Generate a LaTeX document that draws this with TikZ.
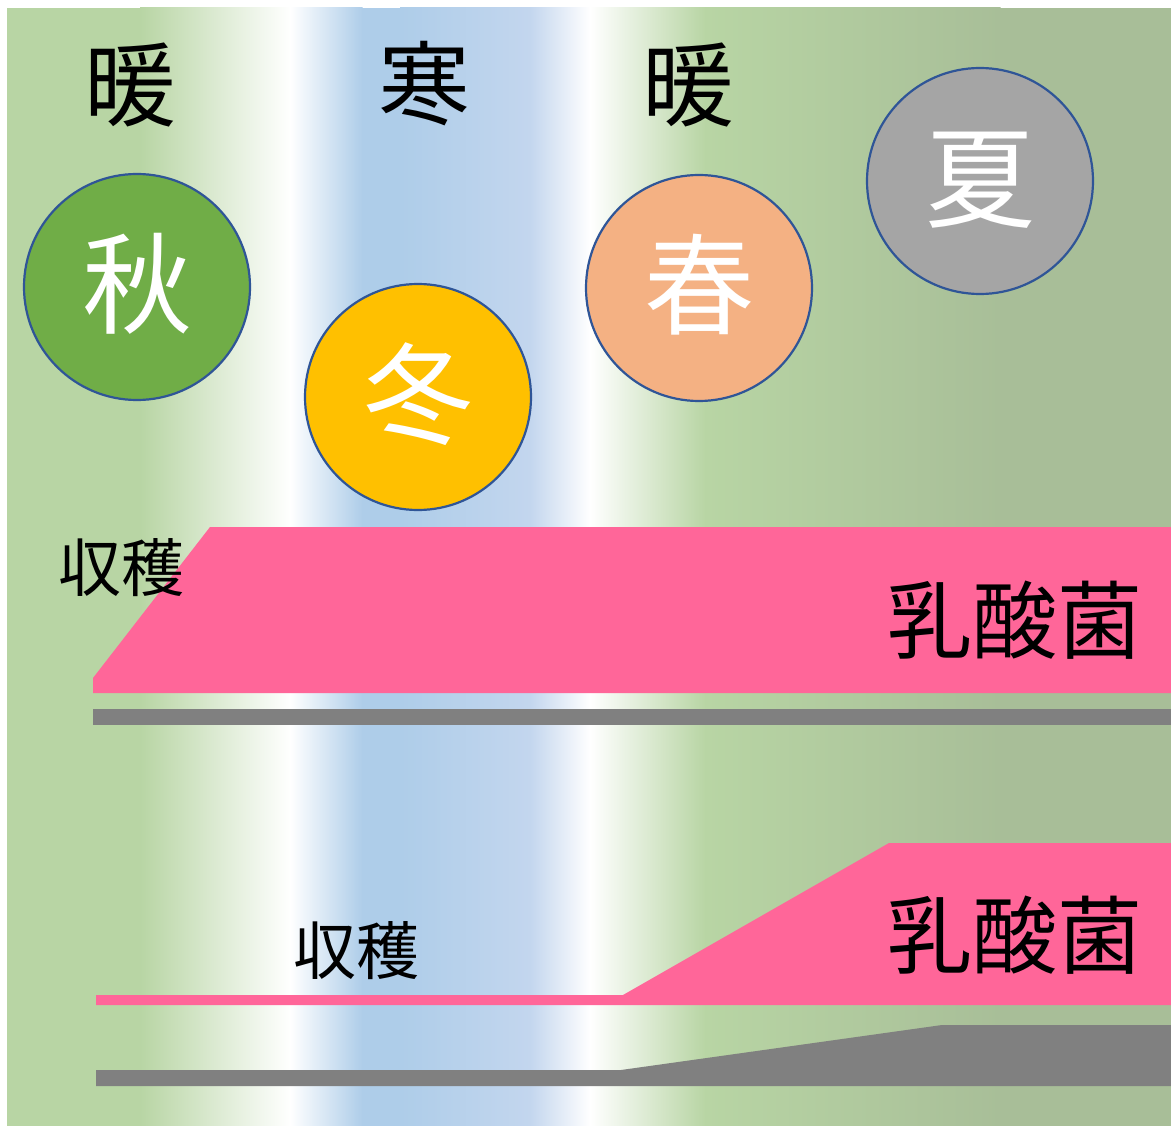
\documentclass[tikz,border=0pt]{standalone}
\usepackage{fontspec}
\newfontfamily\jp{Noto Sans CJK JP}
\definecolor{bgG}{HTML}{B8D5A4}
\definecolor{bgG2}{HTML}{A8BE98}
\definecolor{bgB}{HTML}{AECDE9}
\definecolor{bgB2}{HTML}{C3D6EE}
\definecolor{pinkband}{HTML}{FF6699}
\definecolor{grayband}{HTML}{808080}
\definecolor{rimblue}{HTML}{2F5597}
\definecolor{akiG}{HTML}{70AD47}
\definecolor{fuyuY}{HTML}{FFC000}
\definecolor{haruO}{HTML}{F4B183}
\definecolor{natsuG}{HTML}{A5A5A5}
\begin{document}
\begin{tikzpicture}[x=1pt,y=-1pt,
  season/.style={circle, draw=rimblue, line width=2.2pt, minimum size=226pt, inner sep=0pt,
     text=white, text height=84pt, text depth=7pt, font=\jp\fontsize{110}{110}\selectfont},
  bigword/.style={text=black, inner sep=0pt, font=\jp\fontsize{92}{92}\selectfont},
  harvest/.style={text=black, inner sep=0pt, font=\jp\fontsize{63}{63}\selectfont},
  lab/.style={text=black, inner sep=0pt, font=\jp\fontsize{85}{85}\selectfont}]
\useasboundingbox (0,0) rectangle (1171,1126);
\fill[white] (0,0) rectangle (1171,1126);
% background gradient
\fill[bgG] (7,8) rectangle (140.5,1126);
\shade[left color=bgG, right color=white] (140,8) rectangle (290.5,1126);
\shade[left color=white, right color=bgB] (290,8) rectangle (362.5,1126);
\fill[bgB] (362,8) rectangle (400.5,1126);
\shade[left color=bgB, right color=bgB2] (400,8) rectangle (530.5,1126);
\shade[left color=bgB2, right color=white] (530,8) rectangle (590.5,1126);
\shade[left color=white, right color=bgG] (590,8) rectangle (705.5,1126);
\shade[left color=bgG, right color=bgG2] (705,8) rectangle (1000.5,1126);
\fill[bgG2] (1000,8) rectangle (1171,1126);
% top labels
\node[bigword] (w1) at (130,85) {暖};
\node[bigword] (c1) at (424,84) {寒};
\node[bigword] (w2) at (688,85) {暖};
% season circles
\node[season, fill=akiG] (aki) at (137,287) {秋};
\node[season, fill=fuyuY] (fuyu) at (418,397) {冬};
\node[season, fill=haruO] (haru) at (699,288) {春};
\node[season, fill=natsuG] (natsu) at (980,181) {夏};
% upper bands
\fill[pinkband] (93,693) -- (93,678) -- (210,527) -- (1171,527) -- (1171,693) -- cycle;
\fill[grayband] (93,709) rectangle (1171,725);
\node[harvest] (h1) at (121,568) {収穫};
\node[lab] (l1) at (1015,620) {乳酸菌};
% lower bands
\fill[pinkband] (96,1005) -- (96,995) -- (623,995) -- (889,843) -- (1171,843) -- (1171,1005) -- cycle;
\fill[grayband] (96,1086) -- (96,1070) -- (621,1070) -- (942,1025) -- (1171,1025) -- (1171,1086) -- cycle;
\node[harvest] (h2) at (356,951) {収穫};
\node[lab] (l2) at (1015,935) {乳酸菌};
\end{tikzpicture}
\end{document}
